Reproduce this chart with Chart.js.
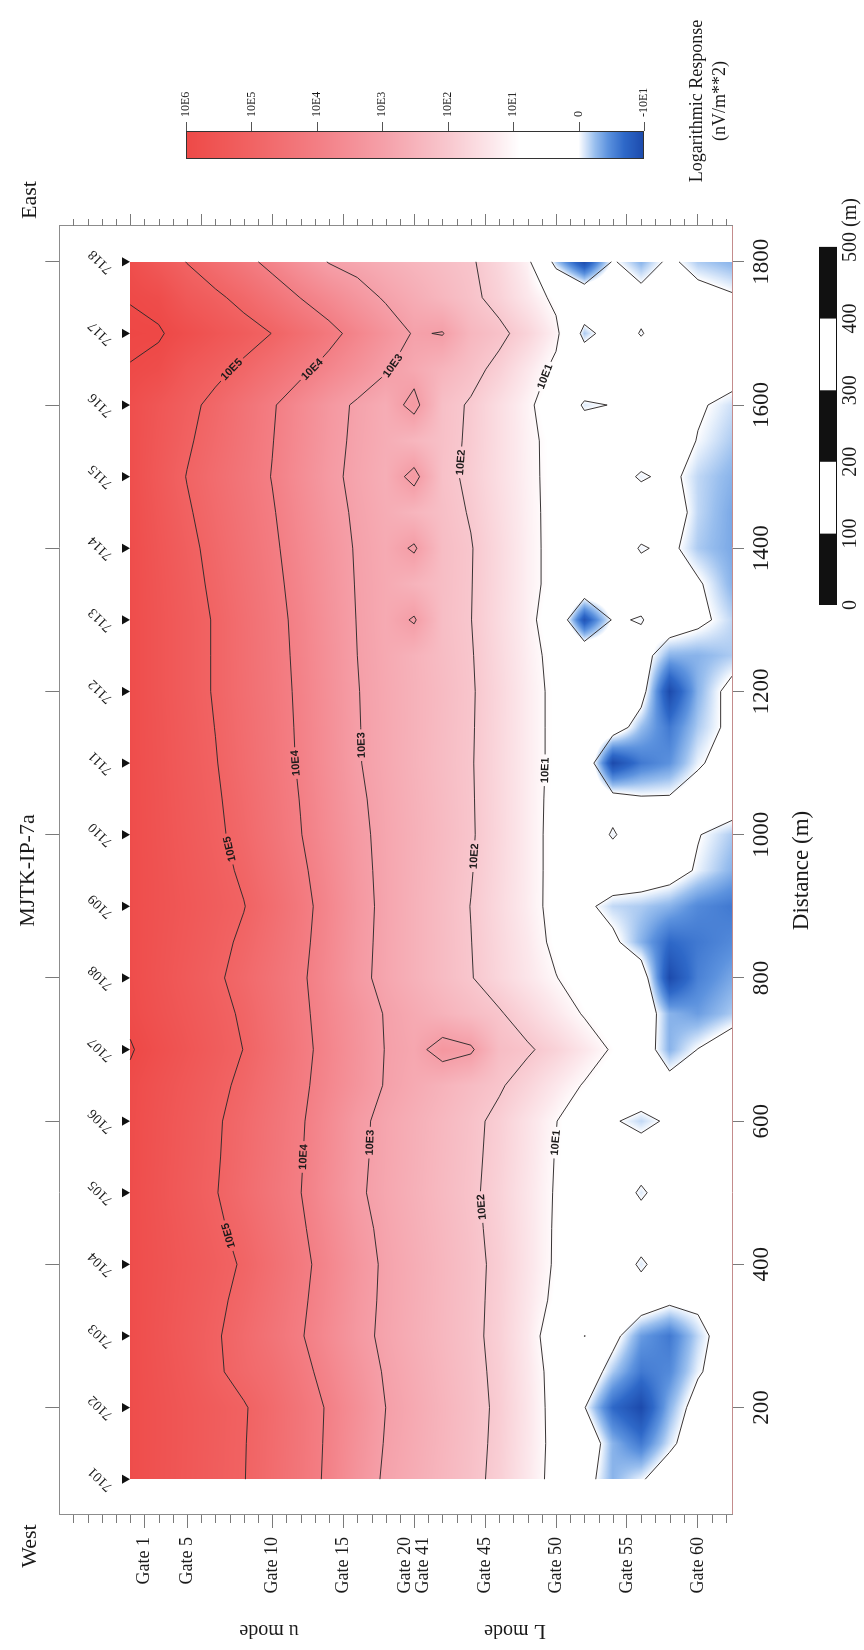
<!DOCTYPE html>
<html>
<head>
<meta charset="utf-8">
<title>MJTK-IP-7a</title>
<script src="https://cdn.jsdelivr.net/npm/chart.js@4.4.1/dist/chart.umd.min.js"></script>
<style>
  html, body { margin: 0; padding: 0; background: #fff; overflow: hidden; }
  /* the section is laid out landscape and turned a quarter turn to fit the portrait page */
  #page {
    position: absolute; left: 0; top: 0;
    width: 1650px; height: 864px;
    background: #fff;
    transform-origin: 0 0;
    transform: translateY(1650px) rotate(-90deg);
  }
  canvas { display: block; }
</style>
</head>
<body>
<div id="page"><canvas id="section" width="1650" height="864"></canvas></div>
<script>
// ---------------- gridded response (decades: 6 = 10E6 ... 1 = 10E1, 0 = 0, -1 = -10E1) ----------------
const distances = [100,150,200,250,300,350,400,450,500,550,600,650,700,750,800,850,900,950,1000,
                   1050,1100,1150,1200,1250,1300,1350,1400,1450,1500,1550,1600,1650,1700,1750,1800];
// ruler position (pseudo-depth) of each grid row
const gateRows = [5,7,9,11,13,15,17,19,21,23,25,27,29,31,33,35,37,39,41,43,45,47.4];

const r05 = [5.85,5.85,5.85,5.85,5.85,5.85,5.85,5.85,5.85,5.87,5.88,5.90,6.04,5.90,5.85,5.85,5.85,5.85,5.85,5.85,5.85,5.85,5.85,5.85,5.85,5.85,5.85,5.83,5.80,5.80,5.80,5.98,6.08,5.98,5.80];
const r07 = [5.64,5.65,5.65,5.62,5.59,5.61,5.63,5.61,5.58,5.60,5.61,5.65,5.77,5.66,5.60,5.62,5.64,5.63,5.61,5.60,5.58,5.57,5.55,5.55,5.55,5.53,5.50,5.45,5.39,5.44,5.49,5.85,6.05,5.85,5.39];
const r09 = [5.44,5.45,5.45,5.39,5.33,5.37,5.41,5.36,5.30,5.33,5.35,5.41,5.52,5.43,5.35,5.40,5.44,5.40,5.36,5.33,5.30,5.28,5.25,5.25,5.25,5.21,5.16,5.07,4.98,5.08,5.17,5.43,5.80,5.39,4.98];
const r11 = [5.23,5.24,5.25,5.09,5.07,5.13,5.19,5.11,5.03,5.06,5.08,5.16,5.26,5.19,5.10,5.17,5.23,5.18,5.12,5.08,5.03,4.99,4.95,4.95,4.95,4.88,4.81,4.73,4.65,4.74,4.83,5.17,5.53,5.13,4.60];
const r13 = [5.02,5.03,5.05,4.80,4.74,4.84,4.94,4.82,4.69,4.73,4.76,4.87,4.99,4.92,4.79,4.90,5.02,4.91,4.80,4.74,4.67,4.64,4.60,4.59,4.58,4.52,4.46,4.39,4.32,4.38,4.44,4.87,5.27,4.80,4.21];
const r15 = [4.67,4.69,4.71,4.56,4.40,4.48,4.56,4.45,4.34,4.38,4.41,4.50,4.59,4.53,4.45,4.54,4.63,4.52,4.41,4.36,4.31,4.29,4.26,4.24,4.22,4.17,4.11,4.05,3.98,4.02,4.06,4.51,4.99,4.40,3.80];
const r17 = [4.30,4.32,4.33,4.19,4.05,4.11,4.17,4.09,4.01,4.04,4.07,4.13,4.18,4.14,4.10,4.16,4.21,4.12,4.02,3.98,3.93,3.91,3.89,3.86,3.83,3.77,3.71,3.64,3.56,3.61,3.65,4.15,4.60,3.99,3.37];
const r19 = [3.89,3.91,3.93,3.78,3.63,3.69,3.74,3.65,3.55,3.59,3.62,3.73,3.78,3.73,3.66,3.70,3.74,3.67,3.59,3.54,3.49,3.48,3.46,3.43,3.39,3.35,3.31,3.23,3.15,3.20,3.24,3.78,4.20,3.64,2.97];
const r21 = [3.35,3.41,3.47,3.34,3.20,3.24,3.28,3.19,3.09,3.12,3.14,3.33,3.37,3.33,3.17,3.20,3.23,3.19,3.15,3.10,3.04,3.03,3.02,3.00,2.98,2.96,2.94,2.90,2.85,2.88,2.91,3.42,3.78,3.27,2.79];
const r23 = [2.91,2.96,3.00,2.94,2.87,2.89,2.90,2.86,2.81,2.83,2.84,2.96,2.98,2.96,2.83,2.84,2.85,2.84,2.83,2.81,2.78,2.78,2.77,2.75,2.73,2.73,2.72,2.67,2.62,2.65,2.67,3.05,3.35,2.93,2.61];
const r25 = [2.67,2.71,2.74,2.69,2.63,2.65,2.66,2.62,2.58,2.60,2.61,2.73,2.80,2.73,2.56,2.56,2.56,2.57,2.58,2.56,2.53,2.54,2.54,2.52,3.06,2.49,3.08,2.44,3.20,2.42,3.20,2.76,2.95,2.67,2.43];
const r27 = [2.42,2.45,2.47,2.43,2.39,2.40,2.41,2.38,2.34,2.36,2.38,2.51,3.25,2.51,2.29,2.29,2.28,2.30,2.32,2.30,2.28,2.29,2.30,2.27,2.24,2.25,2.26,2.21,2.16,2.18,2.20,2.47,3.03,2.41,2.25];
const r29 = [2.17,2.19,2.21,2.18,2.15,2.16,2.17,2.14,2.11,2.13,2.15,2.29,3.10,2.28,2.03,2.01,1.99,2.03,2.06,2.05,2.04,2.05,2.06,2.04,2.01,2.02,2.03,1.96,1.89,1.92,1.94,2.19,2.41,2.14,2.07];
const r31 = [1.84,1.87,1.89,1.86,1.82,1.84,1.86,1.82,1.78,1.82,1.85,2.07,2.26,2.06,1.69,1.66,1.62,1.65,1.67,1.66,1.65,1.66,1.67,1.63,1.59,1.61,1.62,1.57,1.52,1.53,1.53,1.83,2.15,1.79,1.68];
const r33 = [1.32,1.35,1.37,1.34,1.31,1.36,1.40,1.39,1.37,1.41,1.44,1.73,2.08,1.71,1.36,1.30,1.23,1.24,1.24,1.24,1.24,1.24,1.24,1.21,1.18,1.18,1.18,1.17,1.15,1.14,1.12,1.34,1.74,1.33,1.14];
const r35 = [0.78,0.80,0.77,0.75,0.60,0.85,0.92,0.93,0.95,0.97,1.02,1.33,1.77,1.33,1.02,0.85,0.80,0.80,0.80,0.82,0.85,0.85,0.85,0.80,0.60,0.80,0.80,0.80,0.80,0.80,0.60,0.85,1.15,0.85,-0.20];
const r37 = [0.20,0.40,0.02,0.35,-0.005,0.50,0.60,0.60,0.60,0.60,0.50,0.95,1.35,0.95,0.70,0.30,0.10,0.50,0.35,0.40,0.50,0.40,0.55,0.60,-0.90,0.60,0.50,0.50,0.45,0.45,-0.08,0.60,-0.20,0.60,-1.00];
const r39 = [-0.30,-0.30,-0.70,-0.20,0.15,0.40,0.35,0.40,0.35,0.40,0.05,0.60,0.93,0.60,0.45,0.10,-0.15,0.35,-0.05,0.20,-1.00,0.30,0.40,0.35,0.05,0.40,0.30,0.30,0.20,0.30,0.02,0.45,0.30,0.50,0.05];
const r41 = [-0.05,-0.60,-1.00,-0.60,-0.40,0.30,-0.08,0.30,-0.08,0.30,-0.15,0.40,0.30,0.35,0.30,-0.30,-0.20,0.30,0.30,0.05,-0.60,-0.25,0.20,0.20,-0.03,0.25,-0.04,0.30,-0.05,0.30,0.30,0.35,-0.03,0.20,-0.30];
const r43 = [0.30,-0.10,-0.30,-0.50,-0.60,0.10,0.30,0.35,0.30,0.35,0.08,0.20,-0.30,-0.30,-1.00,-0.70,-0.30,0.20,0.30,0.05,-0.45,-0.60,-1.00,-0.30,0.30,0.20,0.10,0.25,0.10,0.25,0.20,0.30,0.30,0.30,0.10];
const r45 = [0.40,0.30,0.20,-0.05,-0.15,0.10,0.40,0.40,0.35,0.35,0.30,0.30,0.01,-0.40,-0.55,-0.60,-0.50,-0.05,0.02,0.20,-0.05,-0.20,-0.30,-0.30,0.10,0.05,-0.20,-0.15,-0.15,-0.02,0.05,0.20,0.30,0.20,-0.20];
const r47 = [0.40,0.40,0.35,0.30,0.30,0.35,0.40,0.40,0.35,0.35,0.30,0.35,0.30,-0.20,-0.35,-0.50,-0.60,-0.30,-0.20,0.30,0.20,0.10,0.15,-0.20,-0.15,-0.30,-0.35,-0.35,-0.30,-0.20,-0.12,0.20,0.30,0.05,-0.30];

const grid = [r05,r07,r09,r11,r13,r15,r17,r19,r21,r23,r25,r27,r29,r31,r33,r35,r37,r39,r41,r43,r45,r47];
grid.forEach((row, j) => {
  if (row.length !== distances.length) throw new Error('grid row at ' + gateRows[j] + ' has ' + row.length + ' values');
});

// ---------------- stations and axes ----------------
const stationIds  = ['7101','7102','7103','7104','7105','7106','7107','7108','7109',
                     '7110','7111','7112','7113','7114','7115','7116','7117','7118'];
const stationDist = [100,200,300,400,500,600,700,800,900,1000,1100,1200,1300,1400,1500,1600,1700,1800];
const markerDepth = 4.61;
const labelDepth  = 2.9;

const distTicks    = [200,400,600,800,1000,1200,1400,1600,1800];
const gateTickPos  = [6,9,15,20,25,30,35,40,45];
const gateTickText = ['Gate 1','Gate 5','Gate 10','Gate 15',['Gate 20','Gate 41'],'Gate 45','Gate 50','Gate 55','Gate 60'];
const rulerMajor   = [5,10,15,20,25,30,35,40,45];

// ---------------- contours ----------------
const contourLevels = [6,5,4,3,2,1,0];
const labelLevels   = [5,4,3,2,1];
const labelNames    = ['10E5','10E4','10E3','10E2','10E1'];
const labelAt5 = [440, 980, 1650];
const labelAt4 = [550, 1100, 1650];
const labelAt3 = [570, 1125, 1655];
const labelAt2 = [480, 970, 1520];
const labelAt1 = [570, 1090, 1640];
const labelSpots = [labelAt5, labelAt4, labelAt3, labelAt2, labelAt1];

// ---------------- colour bar / scale bar ----------------
const cbValues = [6,5,4,3,2,1,0,-1];
const cbLabels = ['10E6','10E5','10E4','10E3','10E2','10E1','0','-10E1'];
const scaleBarMarks = [0,100,200,300,400,500];

const SERIF = '"Liberation Serif", "Times New Roman", Times, serif';

// colour ramp: red for strong positive decay, white near zero, blue for negative
const colourStops = [
  [-1.00,  28,  74, 172],
  [-0.70,  46, 104, 200],
  [-0.45,  92, 146, 222],
  [-0.25, 152, 190, 238],
  [-0.10, 214, 229, 249],
  [ 0.00, 255, 255, 255],
  [ 0.90, 255, 255, 255],
  [ 1.30, 252, 232, 236],
  [ 2.00, 248, 199, 206],
  [ 3.00, 245, 159, 168],
  [ 4.00, 243, 126, 132],
  [ 5.00, 241,  99,  99],
  [ 6.00, 238,  73,  71],
  [ 6.30, 236,  66,  64]
];
function colourOf(v) {
  if (v <= colourStops[0][0]) return colourStops[0].slice(1);
  for (let s = 1; s < colourStops.length; s++) {
    const a = colourStops[s - 1], b = colourStops[s];
    if (v <= b[0]) {
      const t = (v - a[0]) / (b[0] - a[0]);
      return [a[1] + (b[1] - a[1]) * t, a[2] + (b[2] - a[2]) * t, a[3] + (b[3] - a[3]) * t];
    }
  }
  return colourStops[colourStops.length - 1].slice(1);
}
const LUT_MIN = -1.2, LUT_MAX = 6.4, LUT_N = 2000;
const lut = new Uint8ClampedArray(LUT_N * 3);
for (let n = 0; n < LUT_N; n++) {
  const c = colourOf(LUT_MIN + (LUT_MAX - LUT_MIN) * n / (LUT_N - 1));
  lut[n * 3] = c[0]; lut[n * 3 + 1] = c[1]; lut[n * 3 + 2] = c[2];
}
function rgb(v) { const c = colourOf(v); return 'rgb(' + c.map(Math.round).join(',') + ')'; }

// marching squares over the (distance, gate row) grid
function contourSegments(level) {
  const segs = [];
  for (let j = 0; j < gateRows.length - 1; j++) {
    const ya = gateRows[j], yb = gateRows[j + 1];
    const top = grid[j], bot = grid[j + 1];
    for (let i = 0; i < distances.length - 1; i++) {
      const xa = distances[i], xb = distances[i + 1];
      const tl = top[i], tr = top[i + 1], br = bot[i + 1], bl = bot[i];
      const code = (tl >= level ? 8 : 0) | (tr >= level ? 4 : 0) | (br >= level ? 2 : 0) | (bl >= level ? 1 : 0);
      if (code === 0 || code === 15) continue;
      const T = () => [xa + (xb - xa) * (level - tl) / (tr - tl), ya];
      const R = () => [xb, ya + (yb - ya) * (level - tr) / (br - tr)];
      const B = () => [xa + (xb - xa) * (level - bl) / (br - bl), yb];
      const L = () => [xa, ya + (yb - ya) * (level - tl) / (bl - tl)];
      const add = (p, q) => segs.push([p[0], p[1], q[0], q[1]]);
      const centre = (tl + tr + br + bl) / 4;
      switch (code) {
        case 1: case 14: add(L(), B()); break;
        case 2: case 13: add(B(), R()); break;
        case 3: case 12: add(L(), R()); break;
        case 4: case 11: add(T(), R()); break;
        case 6: case 9:  add(T(), B()); break;
        case 7: case 8:  add(L(), T()); break;
        case 5:
          if (centre >= level) { add(L(), T()); add(B(), R()); } else { add(T(), R()); add(L(), B()); }
          break;
        case 10:
          if (centre >= level) { add(T(), R()); add(L(), B()); } else { add(L(), T()); add(B(), R()); }
          break;
      }
    }
  }
  return segs;
}
function crossingsAt(segs, d) {
  const out = [];
  for (const s of segs) {
    const x1 = s[0], y1 = s[1], x2 = s[2], y2 = s[3];
    if (x1 === x2) continue;
    if ((d - x1) * (d - x2) <= 0) out.push(y1 + (y2 - y1) * (d - x1) / (x2 - x1));
  }
  return out.sort((a, b) => a - b);
}
function nearest(list, k) {
  let best = null;
  for (const v of list) if (best === null || Math.abs(v - k) < Math.abs(best - k)) best = v;
  return best;
}

// ---------------- plugins ----------------
const fieldPlugin = {
  id: 'field',
  beforeDatasetsDraw(chart) {
    const ctx = chart.ctx, xs = chart.scales.x, ys = chart.scales.y;
    const x0 = Math.round(xs.getPixelForValue(distances[0]));
    const x1 = Math.round(xs.getPixelForValue(distances[distances.length - 1]));
    const y0 = Math.round(ys.getPixelForValue(gateRows[0]));
    const y1 = Math.round(ys.getPixelForValue(gateRows[gateRows.length - 1]));
    const w = x1 - x0, h = y1 - y0;
    const colI = new Int32Array(w), colT = new Float32Array(w);
    for (let px = 0; px < w; px++) {
      const d = xs.getValueForPixel(x0 + px + 0.5);
      let i = 0;
      while (i < distances.length - 2 && d > distances[i + 1]) i++;
      colI[px] = i;
      colT[px] = Math.min(1, Math.max(0, (d - distances[i]) / (distances[i + 1] - distances[i])));
    }
    const img = ctx.createImageData(w, h);
    const data = img.data;
    for (let py = 0; py < h; py++) {
      const k = ys.getValueForPixel(y0 + py + 0.5);
      let j = 0;
      while (j < gateRows.length - 2 && k > gateRows[j + 1]) j++;
      const u = Math.min(1, Math.max(0, (k - gateRows[j]) / (gateRows[j + 1] - gateRows[j])));
      const g0 = grid[j], g1 = grid[j + 1];
      for (let px = 0; px < w; px++) {
        const i = colI[px], t = colT[px];
        const v = (1 - u) * ((1 - t) * g0[i] + t * g0[i + 1]) + u * ((1 - t) * g1[i] + t * g1[i + 1]);
        let n = Math.round((v - LUT_MIN) / (LUT_MAX - LUT_MIN) * (LUT_N - 1));
        n = n < 0 ? 0 : (n >= LUT_N ? LUT_N - 1 : n);
        const o = (py * w + px) * 4;
        data[o] = lut[n * 3]; data[o + 1] = lut[n * 3 + 1]; data[o + 2] = lut[n * 3 + 2]; data[o + 3] = 255;
      }
    }
    ctx.putImageData(img, x0, y0);

    // contour lines with labelled gaps
    const px = d => xs.getPixelForValue(d), py = k => ys.getPixelForValue(k);
    const segsByLevel = {};
    contourLevels.forEach(l => { segsByLevel[l] = contourSegments(l); });
    const labelFont = 'bold 11px "Liberation Sans Narrow", "Liberation Sans", Arial, sans-serif';
    ctx.font = labelFont;
    const labels = [];
    labelLevels.forEach((level, li) => {
      const segs = segsByLevel[level];
      labelSpots[li].forEach(d => {
        const ks = crossingsAt(segs, d);
        if (!ks.length) return;
        const k = ks[0];
        const ka = nearest(crossingsAt(segs, d - 14), k), kb = nearest(crossingsAt(segs, d + 14), k);
        let ang = 0;
        if (ka !== null && kb !== null) ang = Math.atan2(py(kb) - py(ka), px(d + 14) - px(d - 14));
        if (ang > Math.PI / 2) ang -= Math.PI;
        if (ang < -Math.PI / 2) ang += Math.PI;
        labels.push({ text: labelNames[li], x: px(d), y: py(k), a: ang, w: ctx.measureText(labelNames[li]).width });
      });
    });
    const area = chart.chartArea;
    ctx.save();
    ctx.beginPath();
    ctx.rect(area.left, area.top, area.right - area.left, area.bottom - area.top);
    labels.forEach(lb => {
      const c = Math.cos(lb.a), s = Math.sin(lb.a), hw = lb.w / 2 + 3, hh = 6;
      const pts = [[-hw, -hh], [hw, -hh], [hw, hh], [-hw, hh]].map(p => [lb.x + p[0] * c - p[1] * s, lb.y + p[0] * s + p[1] * c]);
      ctx.moveTo(pts[0][0], pts[0][1]);
      for (let q = 1; q < 4; q++) ctx.lineTo(pts[q][0], pts[q][1]);
      ctx.closePath();
    });
    ctx.clip('evenodd');
    ctx.strokeStyle = '#2e2a2a';
    ctx.lineWidth = 0.95;
    ctx.lineJoin = 'round';
    ctx.beginPath();
    contourLevels.forEach(l => {
      segsByLevel[l].forEach(s => { ctx.moveTo(px(s[0]), py(s[1])); ctx.lineTo(px(s[2]), py(s[3])); });
    });
    ctx.stroke();
    ctx.restore();

    ctx.save();
    ctx.fillStyle = '#1c1a1a';
    ctx.font = labelFont;
    ctx.textAlign = 'center';
    ctx.textBaseline = 'middle';
    labels.forEach(lb => {
      ctx.save(); ctx.translate(lb.x, lb.y); ctx.rotate(lb.a); ctx.fillText(lb.text, 0, 0.5); ctx.restore();
    });
    ctx.restore();
  }
};

const overlayPlugin = {
  id: 'overlay',
  afterDraw(chart) {
    const ctx = chart.ctx, xs = chart.scales.x, ys = chart.scales.y, a = chart.chartArea;
    const line = (x1, y1, x2, y2) => { ctx.beginPath(); ctx.moveTo(x1, y1); ctx.lineTo(x2, y2); ctx.stroke(); };
    const text = (str, x, y, size, align, rot) => {
      ctx.save();
      ctx.translate(x, y);
      if (rot) ctx.rotate(rot);
      ctx.font = size + 'px ' + SERIF;
      ctx.textAlign = align || 'center';
      ctx.textBaseline = 'middle';
      ctx.fillText(str, 0, 0);
      ctx.restore();
    };

    // minor ruler ticks on both gate rulers
    ctx.save();
    ctx.strokeStyle = '#7a7a7a';
    ctx.lineWidth = 1;
    for (let k = 1; k <= 47; k++) {
      const y = Math.round(ys.getPixelForValue(k)) + 0.5;
      if (!gateTickPos.includes(k)) line(a.left - 8, y, a.left, y);
      if (!rulerMajor.includes(k)) line(a.right, y, a.right + 7, y);
    }
    ctx.restore();

    ctx.save();
    ctx.fillStyle = '#1a1a1a';
    // station numbers
    stationIds.forEach((id, s) => {
      text(id, xs.getPixelForValue(stationDist[s]), ys.getPixelForValue(labelDepth), 14, 'center', -Math.PI / 4);
    });
    // headings
    text('MJTK-IP-7a', (a.left + a.right) / 2, 28, 22);
    text('West', 104, 30, 22);
    text('East', 1450, 30, 22);
    text('u mode', 20, 269, 20, 'center', -Math.PI / 2);
    text('L mode', 20, 515, 20, 'center', -Math.PI / 2);

    // colour bar
    const cbX = 1491, cbW = 28, cbTop = 186, cbBot = 644;
    for (let y = cbTop; y < cbBot; y++) {
      const v = cbValues[0] + (cbValues[cbValues.length - 1] - cbValues[0]) * (y + 0.5 - cbTop) / (cbBot - cbTop);
      ctx.fillStyle = rgb(v);
      ctx.fillRect(cbX, y, cbW, 1);
    }
    ctx.strokeStyle = '#333';
    ctx.lineWidth = 1;
    ctx.strokeRect(cbX + 0.5, cbTop + 0.5, cbW - 1, cbBot - cbTop - 1);
    ctx.fillStyle = '#1a1a1a';
    cbLabels.forEach((lab, i) => {
      const y = cbTop + (cbBot - cbTop) * i / (cbLabels.length - 1);
      ctx.strokeStyle = '#555';
      line(cbX + cbW, Math.round(y) + 0.5, cbX + cbW + 9, Math.round(y) + 0.5);
      text(lab, cbX + cbW + 14, y, 12, 'left');
    });
    text('Logarithmic Response', 1549, 697, 18);
    text('(nV/m**2)', 1549, 720, 18);

    // scale bar
    const mPx = (xs.getPixelForValue(1000) - xs.getPixelForValue(900)) / 100;
    const sbLeft = 1045, sbTop = 819, sbH = 18;
    for (let s = 0; s < scaleBarMarks.length - 1; s++) {
      const xa = sbLeft + scaleBarMarks[s] * mPx, xb = sbLeft + scaleBarMarks[s + 1] * mPx;
      ctx.fillStyle = s % 2 === 0 ? '#111' : '#fff';
      ctx.fillRect(xa, sbTop, xb - xa, sbH);
    }
    ctx.strokeStyle = '#111';
    ctx.strokeRect(sbLeft + 0.5, sbTop + 0.5, scaleBarMarks[scaleBarMarks.length - 1] * mPx - 1, sbH - 1);
    ctx.fillStyle = '#1a1a1a';
    scaleBarMarks.forEach((m, i) => {
      const x = sbLeft + m * mPx;
      if (i < scaleBarMarks.length - 1) {
        text(String(m), x, 851, 20);
      } else {
        ctx.font = '20px ' + SERIF;
        const half = ctx.measureText(String(m)).width / 2;
        text(m + ' (m)', x - half, 851, 20, 'left');
      }
    });
    ctx.restore();
  }
};

// ---------------- chart ----------------
const setDistTicks = s => { s.ticks = distTicks.map(v => ({ value: v })); };

new Chart(document.getElementById('section'), {
  type: 'scatter',
  data: {
    datasets: [{
      label: 'Stations',
      data: stationDist.map(d => ({ x: d, y: markerDepth })),
      showLine: false,
      clip: false,
      pointStyle: 'triangle',
      pointRotation: 180,
      pointRadius: 5.3,
      pointHoverRadius: 5.3,
      pointBackgroundColor: '#111',
      pointBorderColor: '#111',
      pointBorderWidth: 0
    }]
  },
  options: {
    responsive: false,
    animation: false,
    devicePixelRatio: 1,
    events: [],
    layout: { padding: 0 },
    plugins: { legend: { display: false }, tooltip: { enabled: false }, title: { display: false } },
    scales: {
      x: {
        type: 'linear', position: 'bottom', min: 50, max: 1850,
        afterBuildTicks: setDistTicks,
        afterFit: s => { s.height = 132; },
        ticks: { autoSkip: false, maxRotation: 0, padding: 4, color: '#1a1a1a',
                 font: { family: SERIF, size: 23 }, callback: v => String(v) },
        grid: { drawOnChartArea: false, drawTicks: true, tickLength: 12, tickColor: '#7a7a7a' },
        border: { display: true, color: '#c48c8c', width: 1 },
        title: { display: true, text: 'Distance (m)', color: '#1a1a1a',
                 font: { family: SERIF, size: 23 }, padding: { top: 0, bottom: 48 } }
      },
      xTop: {
        axis: 'x', type: 'linear', position: 'top', min: 50, max: 1850,
        afterBuildTicks: setDistTicks,
        afterFit: s => { s.height = 59.3; },
        ticks: { display: false },
        grid: { drawOnChartArea: false, drawTicks: true, tickLength: 14, tickColor: '#7a7a7a' },
        border: { display: true, color: '#8c8c8c', width: 1 }
      },
      y: {
        type: 'linear', position: 'left', reverse: true, min: 0, max: 47.4,
        afterBuildTicks: s => { s.ticks = gateTickPos.map(v => ({ value: v })); },
        afterFit: s => { s.width = 135; },
        ticks: { autoSkip: false, padding: 9, color: '#1a1a1a',
                 font: { family: SERIF, size: 18, lineHeight: 1.0 },
                 callback: (v, i) => gateTickText[i] },
        grid: { drawOnChartArea: false, drawTicks: true, tickLength: 13, tickColor: '#7a7a7a' },
        border: { display: true, color: '#8c8c8c', width: 1 }
      },
      yRight: {
        axis: 'y', type: 'linear', position: 'right', reverse: true, min: 0, max: 47.4,
        afterBuildTicks: s => { s.ticks = rulerMajor.map(v => ({ value: v })); },
        afterFit: s => { s.width = 226; },
        ticks: { display: false },
        grid: { drawOnChartArea: false, drawTicks: true, tickLength: 12, tickColor: '#7a7a7a' },
        border: { display: true, color: '#8c8c8c', width: 1 }
      }
    }
  },
  plugins: [fieldPlugin, overlayPlugin]
});
</script>
</body>
</html>
